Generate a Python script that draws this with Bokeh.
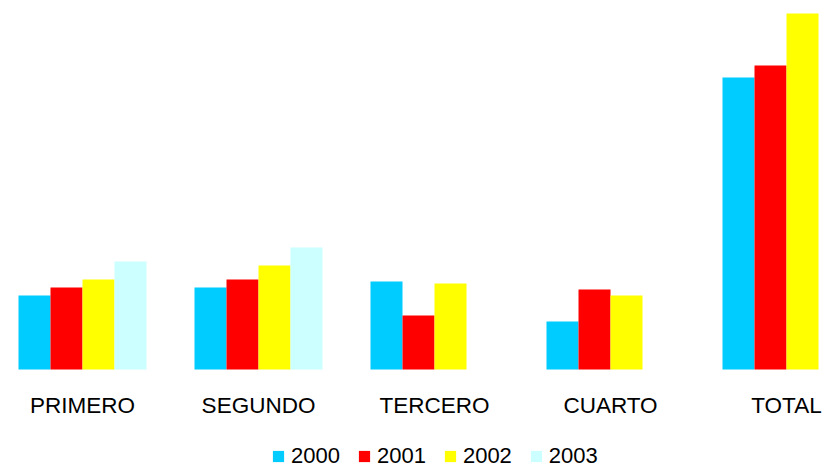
import numpy as np
from bokeh.plotting import figure
from bokeh.models import ColumnDataSource, Range1d, Legend, LegendItem
from bokeh.core.properties import value
from bokeh.transform import dodge
from bokeh.embed import file_html
from bokeh.resources import INLINE

# Quarterly figures per year, plus the yearly total
categories = ["PRIMERO", "SEGUNDO", "TERCERO", "CUARTO", "TOTAL"]
years = ["2000", "2001", "2002", "2003"]
values_2000 = [74, 82, 88, 48, 292]
values_2001 = [82, 90, 54, 80, 304]
values_2002 = [90, 104, 86, 74, 356]
values_2003 = [108, 122, None, None, None]
colors = ["#00CCFF", "#FF0000", "#FFFF00", "#CCFFFF"]

series = [values_2000, values_2001, values_2002, values_2003]

data = {"x": list(range(len(categories))), "cat": categories,
        "base": [0] * len(categories)}
for yr, vals in zip(years, series):
    data[yr] = [np.nan if v is None else v for v in vals]
src = ColumnDataSource(data)

FONT = "Liberation Sans"
step = 176.0          # pixels per category
bar_w = 32.0 / step   # bar width in category units

p = figure(width=825, height=468, output_backend="svg", toolbar_location=None,
           x_range=Range1d(-82.0 / step, (825.0 - 82.0) / step),
           y_range=Range1d(-99, 369),
           x_axis_location=None, y_axis_location=None,
           min_border=0, outline_line_color=None)
p.grid.visible = False
p.background_fill_color = "white"
p.border_fill_color = "white"

renderers = []
for i, (yr, col) in enumerate(zip(years, colors)):
    off = (i - 1.5) * bar_w
    r = p.vbar(x=dodge("x", off, range=p.x_range), top=yr, bottom=0,
               width=bar_w, source=src, fill_color=col, line_color=None)
    renderers.append(r)

# category names under each group
p.text(x="x", y="base", text="cat", source=src, text_align="center",
       text_baseline="alphabetic", y_offset=36,
       text_font=value(FONT), text_font_size=value("22.5px"), text_color="black")

legend = Legend(items=[LegendItem(label=yr, renderers=[r]) for yr, r in zip(years, renderers)],
                orientation="horizontal", location=(271, -1),
                glyph_width=14, glyph_height=14, label_standoff=6, spacing=17,
                padding=0, margin=0, border_line_color=None, background_fill_alpha=0,
                label_text_font=FONT, label_text_font_size="22px",
                label_text_color="black")
p.add_layout(legend)

open("out.html", "w").write(file_html(p, INLINE))
